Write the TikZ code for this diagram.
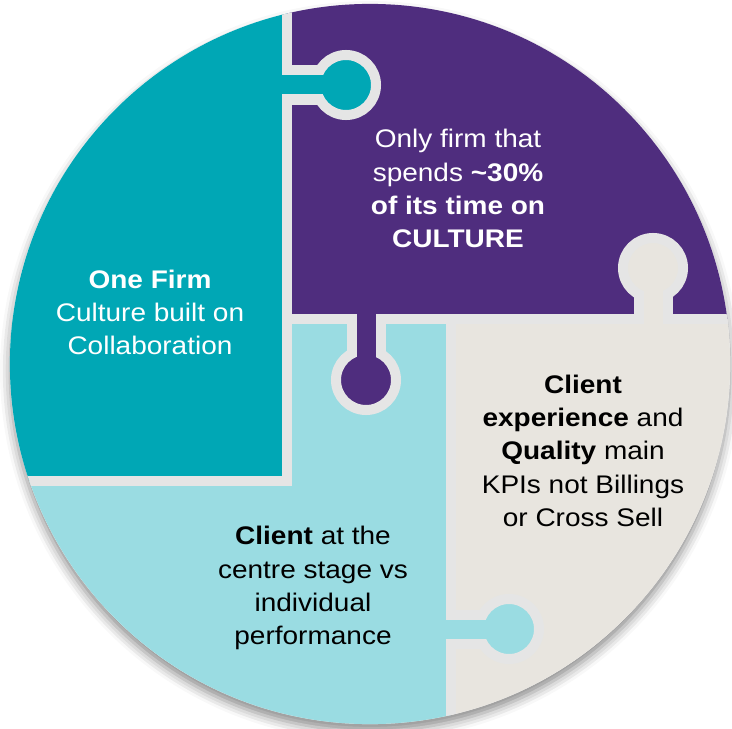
\documentclass[tikz,border=0pt]{standalone}
\usepackage{fontspec}
\setmainfont{Liberation Sans}[FakeStretch=1.1]
\usepackage{tikz}
\usetikzlibrary{shadows.blur}
\definecolor{firmteal}{RGB}{0,167,181}
\definecolor{cultpurple}{RGB}{79,45,126}
\definecolor{clientblue}{RGB}{154,220,226}
\definecolor{qualbeige}{RGB}{232,229,223}
\definecolor{gapgray}{RGB}{229,229,229}

\begin{document}
\begin{tikzpicture}[x=0.025cm,y=-0.025cm,
  gap/.style={draw=gapgray,line width=0.25cm},
  knob/.style={gap,fill=#1},
  txt/.style={inner sep=0pt,align=center,font=\fontsize{18.1}{23.7}\selectfont}]

\useasboundingbox (0,0) rectangle (732,729);

% shadow under the disc
\fill[white,blur shadow={shadow xshift=0pt,shadow yshift=-5pt,shadow blur radius=7pt,shadow opacity=45}] (370,364) circle[radius=9cm];

\begin{scope}
\clip (370,364) circle[radius=9cm];

\fill[clientblue] (0,319) rectangle (451,729);
\fill[firmteal] (0,0) rectangle (287,481);
\fill[cultpurple] (287,0) rectangle (732,319);
\fill[qualbeige] (451,319) rectangle (732,729);

% cuts
\draw[gap] (287,-5) -- (287,481) -- (-5,481);
\draw[gap] (287,319) -- (740,319);
\draw[gap] (451,319) -- (451,740);

% teal knob
\draw[gap] (287,70.5) -- (322,70.5) (287,99.5) -- (322,99.5);
\draw[knob=firmteal] (346,85) circle[radius=0.75cm];
\fill[firmteal] (280,75.5) rectangle (346,94.5);

% purple knob
\draw[gap] (351.5,319) -- (351.5,356) (380.5,319) -- (380.5,356);
\draw[knob=cultpurple] (366,380) circle[radius=0.75cm];
\fill[cultpurple] (356.5,312) rectangle (375.5,380);

% beige knob
\draw[gap] (638.5,319) -- (638.5,292) (667.5,319) -- (667.5,292);
\draw[knob=qualbeige] (653,268) circle[radius=0.75cm];
\fill[qualbeige] (643.5,268) rectangle (662.5,326);

% light blue knob
\draw[gap] (451,614.5) -- (485,614.5) (451,643.5) -- (485,643.5);
\draw[knob=clientblue] (509,629) circle[radius=0.75cm];
\fill[clientblue] (444,619.5) rectangle (509,638.5);
\end{scope}

\node[txt,text=white] (firm) at (150,312.3) {\textbf{One Firm}\\Culture built on\\Collaboration};
\node[txt,text=white] (culture) at (458,188.8) {Only firm that\\spends \textbf{\textasciitilde30\%}\\\textbf{of its time on}\\\textbf{CULTURE}};
\node[txt] (quality) at (583,450.8) {\textbf{Client}\\\textbf{experience} and\\\textbf{Quality} main\\KPIs not Billings\\or Cross Sell};
\node[txt] (client) at (313,588.3) {\textbf{Client} at the\\centre stage vs\\individual\\performance};
\end{tikzpicture}
\end{document}
